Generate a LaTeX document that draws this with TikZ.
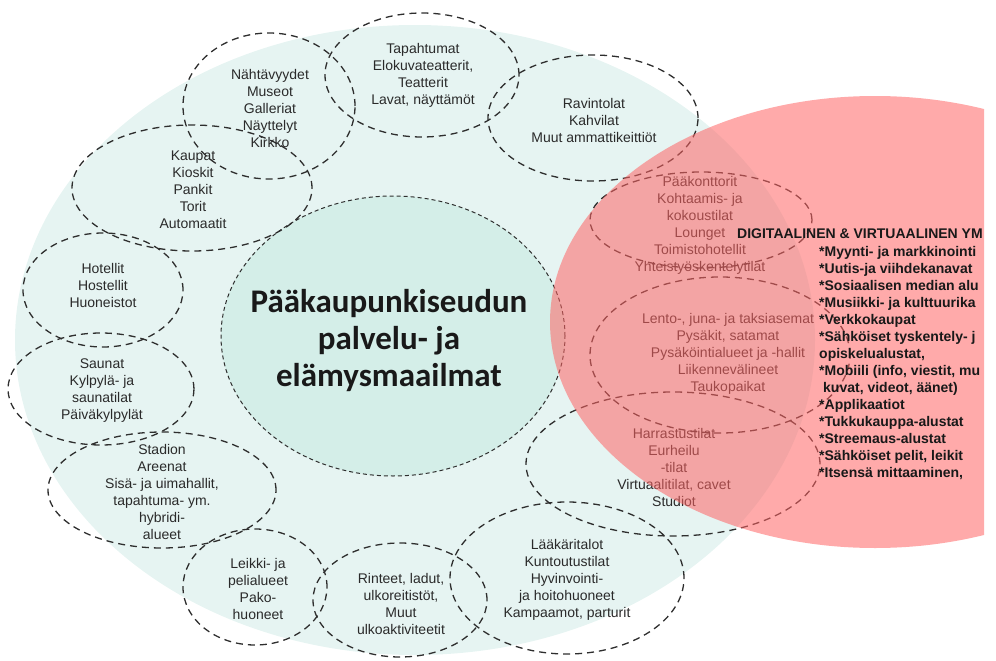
\documentclass[tikz,border=0pt]{standalone}
\usepackage{fontspec}
\setmainfont{Liberation Sans}
\newfontfamily\corefont{Carlito}
\usepackage{tikz}
\usetikzlibrary{shapes.geometric}
\definecolor{bgmint}{HTML}{E6F4F2}
\definecolor{coremint}{HTML}{D4EEE8}
\definecolor{digired}{HTML}{FF6464}
\definecolor{dashgray}{HTML}{2E2E2E}
\definecolor{labelgray}{HTML}{2A2A2A}
\newcommand{\zonefont}{\fontsize{14}{17}\selectfont}

\begin{document}
\begin{tikzpicture}[x=1pt,y=-1pt,
    zone/.style={ellipse,draw=dashgray,line width=1.3pt,dash pattern=on 7pt off 5pt,inner sep=0pt},
    zonetext/.style={align=center,text=labelgray,font=\zonefont,inner sep=0pt},
    core/.style={ellipse,fill=coremint,draw=dashgray,line width=1pt,dash pattern=on 4pt off 3pt,inner sep=0pt}]
            \useasboundingbox (0,0) rectangle (996,661);
            \begin{scope}
            \clip (0,0) rectangle (984,661);
            \node[ellipse,fill=bgmint,inner sep=0pt,minimum width=800pt,minimum height=630pt] (region) at (415,340) {};
            \node[core,minimum width=344pt,minimum height=280pt] (core) at (393,336) {};
            \node[font=\corefont\bfseries\fontsize{33}{37}\selectfont,align=center,text=black!90,inner sep=0pt] (core text) at (389,341) {Pääkaupunkiseudun\\palvelu- ja\\elämysmaailmat};

            \node[zone,minimum width=172pt,minimum height=146pt] (nahtavyydet) at (269,106) {};
            \node[zone,minimum width=194pt,minimum height=124pt] (tapahtumat) at (422,75) {};
            \node[zone,minimum width=210pt,minimum height=126pt] (ravintolat) at (593,118) {};
            \node[zone,minimum width=240pt,minimum height=126pt] (kaupat) at (192,188) {};
            \node[zone,minimum width=160pt,minimum height=114pt] (hotellit) at (103,290) {};
            \node[zone,minimum width=186pt,minimum height=112pt] (saunat) at (101,389) {};
            \node[zone,minimum width=228pt,minimum height=116pt] (stadion) at (162,490) {};
            \node[zone,minimum width=144pt,minimum height=116pt] (leikki) at (255,587) {};
            \node[zone,minimum width=174pt,minimum height=114pt] (rinteet) at (400,600) {};
            \node[zone,minimum width=234pt,minimum height=152pt] (laakari) at (567,578) {};
            \node[zone,minimum width=294pt,minimum height=144pt] (harrastus) at (673,464) {};
            \node[zone,minimum width=260pt,minimum height=156pt] (lento) at (720,355) {};
            \node[zone,minimum width=222pt,minimum height=96pt] (konttorit) at (701,220) {};

            \node[zonetext] (nahtavyydet text) at (270,108) {Nähtävyydet\\Museot\\Galleriat\\Näyttelyt\\Kirkko};
            \node[zonetext] (tapahtumat text) at (423,75) {Tapahtumat\\Elokuvateatterit,\\Teatterit\\Lavat, näyttämöt};
            \node[zonetext] (ravintolat text) at (594,120) {Ravintolat\\Kahvilat\\Muut ammattikeittiöt};
            \node[zonetext] (kaupat text) at (193,190) {Kaupat\\Kioskit\\Pankit\\Torit\\Automaatit};
            \node[zonetext] (hotellit text) at (103,285) {Hotellit\\Hostellit\\Huoneistot};
            \node[zonetext] (saunat text) at (102,391) {Saunat\\Kylpylä- ja\\saunatilat\\Päiväkylpylät};
            \node[zonetext] (stadion text) at (162,492) {Stadion\\Areenat\\Sisä- ja uimahallit,\\tapahtuma- ym.\\hybridi-\\alueet};
            \node[zonetext] (leikki text) at (258,589) {Leikki- ja\\pelialueet\\Pako-\\huoneet};
            \node[zonetext] (rinteet text) at (401,604) {Rinteet, ladut,\\ulkoreitistöt,\\Muut\\ulkoaktiviteetit};
            \node[zonetext] (laakari text) at (567,580) {Lääkäritalot\\Kuntoutustilat\\Hyvinvointi-\\ja hoitohuoneet\\Kampaamot, parturit};
            \node[zonetext] (harrastus text) at (674,467) {Harrastustilat\\Eurheilu\\-tilat\\Virtuaalitilat, cavet\\Studiot};
            \node[zonetext] (lento text) at (728,354) {Lento-, juna- ja taksiasemat\\Pysäkit, satamat\\Pysäköintialueet ja -hallit\\Liikennevälineet\\Taukopaikat};
            \node[zonetext] (konttorit text) at (700,225) {Pääkonttorit\\Kohtaamis- ja\\kokoustilat\\Lounget\\Toimistohotellit\\Yhteistyöskentelytilat};

            \node[ellipse,fill=digired,fill opacity=0.55,inner sep=0pt,minimum width=650pt,minimum height=452pt] (digital) at (875,322) {};
            \node[anchor=west,font=\bfseries\zonefont,text=black!90,inner sep=0pt] (digital title) at (737,234) {DIGITAALINEN \& VIRTUAALINEN YM};
            \node[anchor=north west,align=left,font=\bfseries\zonefont,text=black!90,inner sep=0pt] (digital list) at (819,246) {*Myynti- ja markkinointi\\*Uutis-ja viihdekanavat\\*Sosiaalisen median alu\\*Musiikki- ja kulttuurika\\*Verkkokaupat\\*Sähköiset tyskentely- j\\opiskelualustat,\\*Mobiili (info, viestit, mu\\\hspace{4pt}kuvat, videot, äänet)\\*Applikaatiot\\*Tukkukauppa-alustat\\*Streemaus-alustat\\*Sähköiset pelit, leikit\\*Itsensä mittaaminen,};
            \end{scope}
        \end{tikzpicture}
\end{document}
